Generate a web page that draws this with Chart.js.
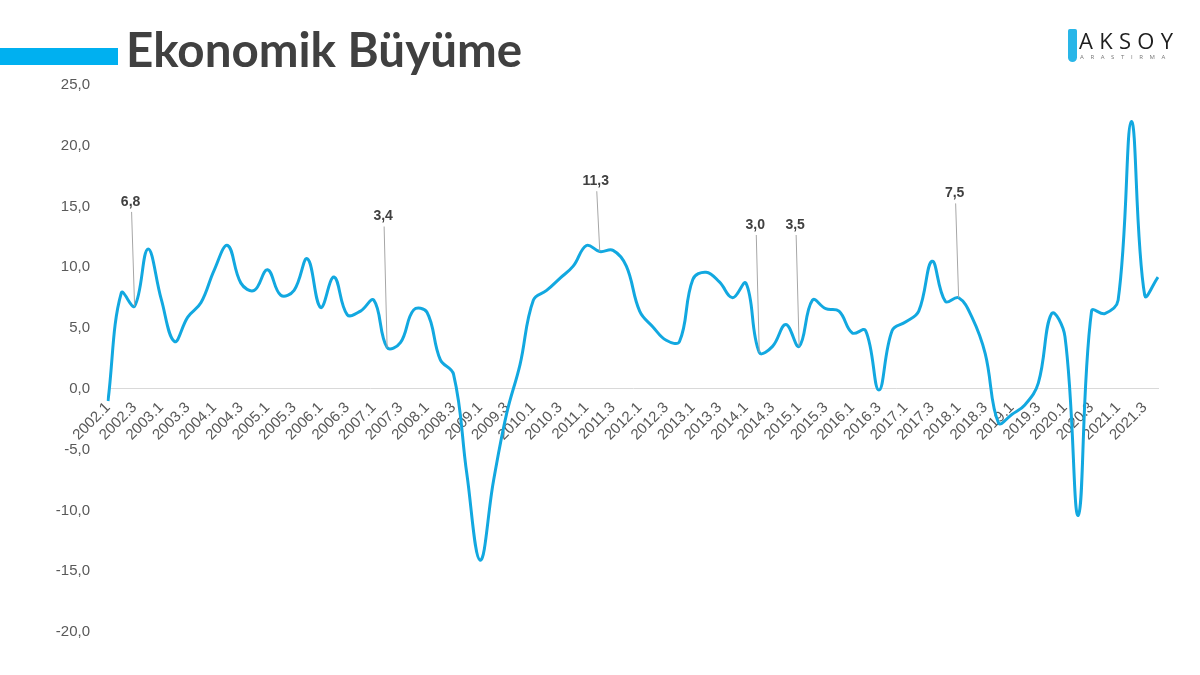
<!DOCTYPE html>
<html>
<head>
<meta charset="utf-8">
<script src="https://cdn.jsdelivr.net/npm/chart.js@4.4.1/dist/chart.umd.min.js"></script>
<style>
  html, body { margin: 0; padding: 0; background: #fff; }
  #wrap { position: relative; width: 1200px; height: 675px; overflow: hidden; }
  #chart { position: absolute; left: 0; top: 0; }
  .bar { position: absolute; left: 0; top: 48px; width: 118px; height: 17px; background: #00B0F0; }
  .title { position: absolute; left: 126px; top: 21px; font-family: Lato, 'Open Sans', sans-serif; font-weight: 700; font-size: 47.5px; color: #404040; line-height: 56px; white-space: nowrap; }
  .logo { position: absolute; left: 1068px; top: 28px; width: 125px; height: 40px; }
  .logo .icon { position: absolute; left: 0; top: 1px; width: 9px; height: 33px; border-radius: 2px 2px 5px 5px; background: #29B6E8; }
  .logo .name { position: absolute; left: 11px; top: 0; font-family: 'Open Sans', sans-serif; font-size: 22px; letter-spacing: 6.3px; color: #1e1e1e; line-height: 24px; }
  .logo .sub { position: absolute; left: 12px; top: 25px; font-family: 'Open Sans', sans-serif; font-size: 6px; letter-spacing: 6.6px; color: #777; line-height: 8px; }
</style>
</head>
<body>
<div id="wrap">
  <canvas id="chart" width="1200" height="675"></canvas>
  <div class="bar"></div>
  <div class="title">Ekonomik Büyüme</div>
  <div class="logo">
    <div class="icon"></div>
    <div class="name">AKSOY</div>
    <div class="sub">ARASTIRMA</div>
  </div>
</div>
<script>
// quarters 2002.1 .. 2021.4
const years = []
for (let y = 2002; y <= 2021; y++) years.push(y)
const quarters = []
years.forEach((y) => { for (let q = 1; q <= 4; q++) quarters.push(y + '.' + q) })

// yillik buyume, %
const growth = [
  -1.0, 7.9, 6.8, 11.5,
  7.4, 3.9, 5.9, 7.1,
  9.8, 11.8, 8.7, 8.1,
  9.8, 7.7, 8.1, 10.7,
  6.7, 9.2, 6.1, 6.4,
  7.3, 3.4, 3.8, 6.5,
  6.3, 2.4, 1.2, -7.0,
  -14.1, -7.6, -2.0, 2.0,
  7.3, 8.1, 9.1, 10.1,
  11.8, 11.3, 11.4, 10.1,
  6.4, 5.1, 4.0, 3.9,
  9.0, 9.6, 8.8, 7.5,
  8.7, 3.0, 3.5, 5.3,
  3.5, 7.3, 6.6, 6.4,
  4.6, 4.8, -0.1, 4.8,
  5.5, 6.4, 10.5, 7.2,
  7.5, 5.9, 2.9, -2.8,
  -2.1, -1.3, 0.5, 6.2,
  4.3, -10.4, 6.4, 6.2,
  7.3, 22.0, 7.7, 9.2,
]

const yTicks = [-20, -15, -10, -5, 0, 5, 10, 15, 20, 25]

// etiketli noktalar ve etiket seviyeleri
const calloutIndex = [2, 21, 37, 49, 52, 64]
const calloutLevel = [15.3, 14.1, 17.0, 13.4, 13.4, 16.0]

const fmt = (v) => v.toFixed(1).replace('.', ',')

const calloutPlugin = {
  id: 'callouts',
  afterDatasetsDraw(chart) {
    const { ctx } = chart
    const meta = chart.getDatasetMeta(0)
    const yScale = chart.scales.y
    ctx.save()
    calloutIndex.forEach((idx, k) => {
      const pt = meta.data[idx]
      const ly = yScale.getPixelForValue(calloutLevel[k])
      ctx.strokeStyle = '#A6A6A6'
      ctx.lineWidth = 1
      ctx.beginPath()
      ctx.moveTo(pt.x - 3, ly + 9)
      ctx.lineTo(pt.x, pt.y)
      ctx.stroke()
      ctx.fillStyle = '#404040'
      ctx.font = 'bold 14px "Liberation Sans", Arial, sans-serif'
      ctx.textAlign = 'center'
      ctx.textBaseline = 'bottom'
      ctx.fillText(fmt(growth[idx]), pt.x - 4, ly + 6)
    })
    ctx.restore()
  },
}

const ctx = document.getElementById('chart').getContext('2d')
new Chart(ctx, {
  type: 'line',
  data: {
    labels: quarters,
    datasets: [{
      data: growth,
      borderColor: '#12A8E0',
      borderWidth: 3,
      pointRadius: 0,
      tension: 0.4,
      fill: false,
    }],
  },
  options: {
    responsive: false,
    animation: false,
    layout: { padding: { top: 85, bottom: 43, right: 42, left: 0 } },
    plugins: { legend: { display: false }, tooltip: { enabled: false } },
    scales: {
      x: {
        position: { y: 0 },
        grid: { display: false },
        border: { display: true, color: '#D9D9D9', width: 1 },
        ticks: {
          autoSkip: false,
          minRotation: 45,
          maxRotation: 45,
          padding: 2,
          color: '#595959',
          font: { family: '"Liberation Sans", Arial, sans-serif', size: 15 },
          callback: (value, index) => (index % 2 === 0 ? quarters[index] : ''),
        },
      },
      y: {
        min: -20,
        max: 25,
        grid: { display: false },
        border: { display: false },
        afterFit: (scale) => { scale.width = 108 },
        afterBuildTicks: (scale) => { scale.ticks = yTicks.map((v) => ({ value: v })) },
        ticks: {
          padding: 10,
          color: '#595959',
          font: { family: '"Liberation Sans", Arial, sans-serif', size: 15 },
          callback: (v) => fmt(v),
        },
      },
    },
  },
  plugins: [calloutPlugin],
})
</script>
</body>
</html>
